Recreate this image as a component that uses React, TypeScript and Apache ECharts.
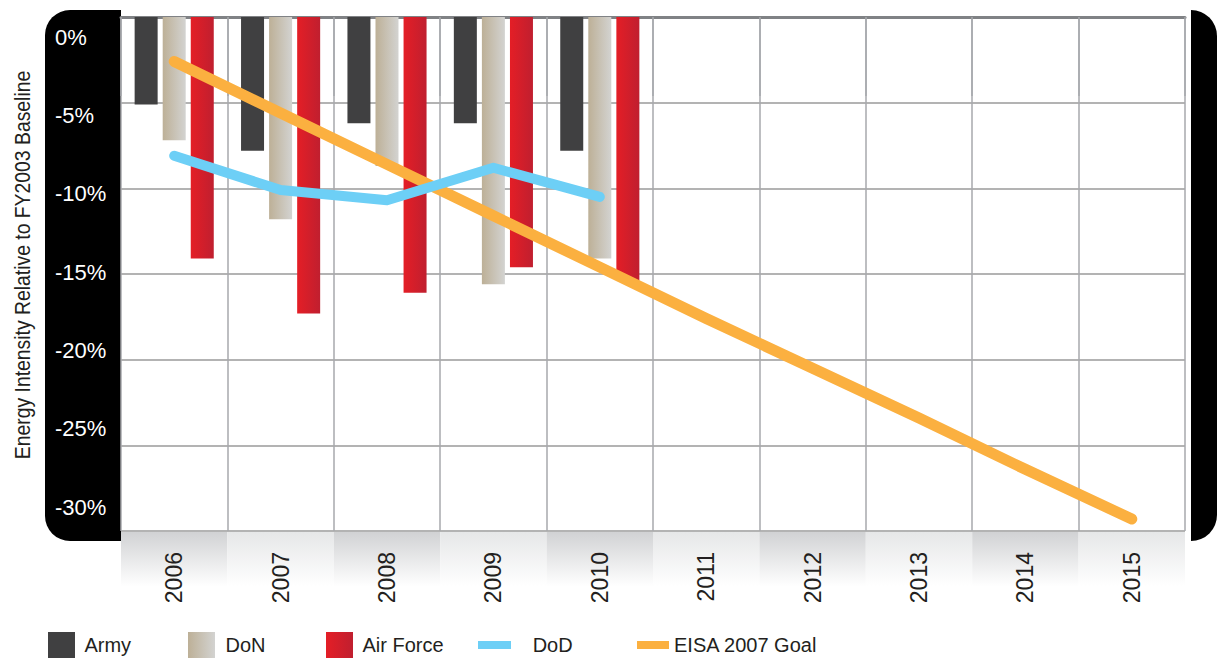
import React, { useEffect, useRef } from "react";
import * as echarts from "echarts";

const years = ["2006", "2007", "2008", "2009", "2010", "2011", "2012", "2013", "2014", "2015"];
const army = [-5.1, -7.8, -6.2, -6.2, -7.8];
const don = [-7.2, -11.8, -8.7, -15.6, -14.1];
const airForce = [-14.1, -17.3, -16.1, -14.6, -15.4];
const dod = [-8.1, -10.1, -10.7, -8.8, -10.5];
const eisaGoal = [-2.6, -5.6, -8.6, -11.6, -14.6, -17.6, -20.5, -23.4, -26.4, -29.3];
const bandValues = [1, 1, 1, 1, 1, 1, 1, 1, 1, 1];

const FONT = '"Liberation Sans", Arial, sans-serif';
const TEXT = "#231f20";

const hGrad = (a: string, b: string) =>
  new echarts.graphic.LinearGradient(0, 0, 1, 0, [
    { offset: 0, color: a },
    { offset: 1, color: b },
  ]);
const vGrad = (a: string) =>
  new echarts.graphic.LinearGradient(0, 0, 0, 1, [
    { offset: 0, color: a },
    { offset: 0.8, color: "#ffffff" },
    { offset: 1, color: "#ffffff" },
  ]);

export default function App() {
  const ref = useRef<HTMLDivElement>(null);
  useEffect(() => {
    if (!ref.current) return;
    const chart = echarts.init(ref.current, null, { renderer: "svg" });
    const legendBase = (name: string, left: number, top: number, w: number, h: number, lead: string) => ({
      data: [{ name, icon: "rect" }],
      left,
      top,
      padding: 0,
      itemWidth: w,
      itemHeight: h,
      orient: "horizontal",
      selectedMode: false,
      formatter: (n: string) => lead + n,
      textStyle: { color: TEXT, fontSize: 20, fontFamily: FONT },
    });
    chart.setOption({
      animation: false,
      backgroundColor: "#ffffff",
      grid: [
        { left: 121, right: 32, top: 17, bottom: 127 },
        { left: 121, right: 32, top: 37, bottom: 151 },
        { left: 121, right: 32, top: 532, bottom: 58 },
      ],
      graphic: {
        elements: [
          {
            type: "rect",
            z: -20,
            shape: { x: 45, y: 10, width: 76, height: 531, r: [25, 0, 0, 25] },
            style: { fill: "#000000" },
          },
          {
            type: "rect",
            z: -20,
            shape: { x: 1191, y: 10, width: 26, height: 531, r: [0, 26, 26, 0] },
            style: { fill: "#000000" },
          },
          {
            type: "text",
            x: 22,
            y: 265,
            rotation: Math.PI / 2,
            scaleX: 0.88,
            style: {
              text: "Energy Intensity Relative to FY2003 Baseline",
              fontSize: 22,
              fontFamily: FONT,
              fill: TEXT,
              align: "center",
              verticalAlign: "middle",
            },
          },
        ],
      },
      xAxis: [
        {
          gridIndex: 0,
          type: "category",
          data: years,
          boundaryGap: true,
          axisLine: { lineStyle: { color: "#808285", width: 3 } },
          axisTick: { show: true, interval: 0, length: 79, lineStyle: { color: "#a7a9ac", width: 1.5 } },
          axisLabel: { rotate: 90, margin: 21, fontSize: 23, color: TEXT, fontFamily: FONT, interval: 0 },
          splitLine: { show: true, interval: 0, lineStyle: { color: "#a7a9ac", width: 1.5 } },
        },
        { gridIndex: 1, type: "category", data: years, show: false },
        { gridIndex: 2, type: "category", data: years, show: false, boundaryGap: true },
      ],
      yAxis: [
        {
          gridIndex: 0,
          type: "value",
          min: -30,
          max: 0,
          interval: 5,
          axisLabel: { show: false },
          axisLine: { show: false },
          axisTick: { show: false },
          splitLine: { lineStyle: { color: "#9a9a9a", width: 1.5 } },
        },
        {
          gridIndex: 1,
          type: "value",
          min: -30,
          max: 0,
          interval: 5,
          axisLine: { show: false },
          axisTick: { show: false },
          splitLine: { show: false },
          axisLabel: {
            formatter: (v: number) => `${v}%`,
            color: "#ffffff",
            fontSize: 22,
            fontFamily: FONT,
            align: "left",
            margin: 66,
          },
        },
        { gridIndex: 2, type: "value", min: 0, max: 1, show: false },
      ],
      legend: [
        legendBase("Army", 48, 632, 27, 26, " "),
        legendBase("DoN", 188, 632, 27, 26, " "),
        legendBase("Air Force", 326, 632, 27, 26, " "),
        legendBase("DoD", 478, 635, 33, 8, "   "),
        legendBase("EISA 2007 Goal", 637, 635, 32, 8, ""),
      ],
      series: [
        {
          name: "band",
          type: "bar",
          xAxisIndex: 2,
          yAxisIndex: 2,
          z: -5,
          silent: true,
          barWidth: "100%",
          data: bandValues.map((v, i) => ({
            value: v,
            itemStyle: { color: vGrad(i % 2 === 0 ? "#d1d2d4" : "#e6e7e8") },
          })),
        },
        {
          name: "Army",
          type: "bar",
          xAxisIndex: 0,
          yAxisIndex: 0,
          data: army,
          barWidth: 23,
          barGap: "22%",
          itemStyle: { color: "#404041" },
        },
        {
          name: "DoN",
          type: "bar",
          xAxisIndex: 0,
          yAxisIndex: 0,
          data: don,
          barWidth: 23,
          barGap: "22%",
          itemStyle: { color: hGrad("#bdb097", "#d3d3d1") },
        },
        {
          name: "Air Force",
          type: "bar",
          xAxisIndex: 0,
          yAxisIndex: 0,
          data: airForce,
          barWidth: 23,
          barGap: "22%",
          itemStyle: { color: hGrad("#e41e26", "#c01f2f") },
        },
        {
          name: "EISA 2007 Goal",
          type: "line",
          xAxisIndex: 0,
          yAxisIndex: 0,
          data: eisaGoal,
          symbol: "none",
          itemStyle: { color: "#fbb040" },
          lineStyle: { color: "#fbb040", width: 11, cap: "round", join: "round" },
          z: 4,
        },
        {
          name: "DoD",
          type: "line",
          xAxisIndex: 0,
          yAxisIndex: 0,
          data: dod,
          symbol: "none",
          itemStyle: { color: "#6dcff6" },
          lineStyle: { color: "#6dcff6", width: 10, cap: "round", join: "round" },
          z: 5,
        },
      ],
    });
    return () => chart.dispose();
  }, []);
  return (
    <div
      ref={ref}
      style={{ position: "fixed", left: 0, top: 0, width: 1217, height: 658 }}
    />
  );
}
